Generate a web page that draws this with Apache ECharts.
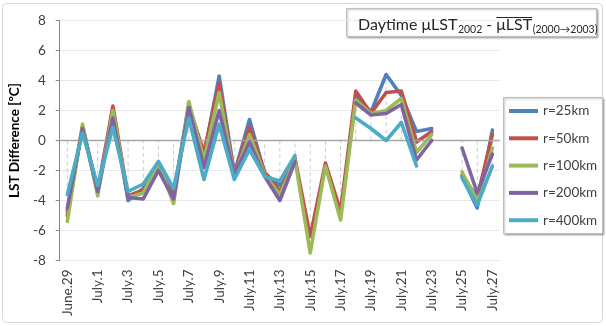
<!DOCTYPE html>
<html><head><meta charset="utf-8">
<script src="https://cdn.jsdelivr.net/npm/echarts@6/dist/echarts.min.js"></script>
<style>html,body{margin:0;padding:0;background:#fff}#c{width:606px;height:326px}</style>
</head><body><div id="c"></div>
<script>
const categories = ['June.29','June.30','July.1','July.2','July.3','July.4','July.5','July.6','July.7','July.8','July.9','July.10','July.11','July.12','July.13','July.14','July.15','July.16','July.17','July.18','July.19','July.20','July.21','July.22','July.23','July.24','July.25','July.26','July.27'];
const r25  = [-4.7, 0.9, -3.3, 2.1, -4.0, -3.2, -1.5, -3.6, 2.4, -1.0, 4.3, -2.2, 1.4, -2.2, -3.0, -1.2, null, null, null, 3.0, 1.9, 4.4, 3.0, 0.6, 0.8, null, -2.4, -4.5, 0.7];
const r50  = [-5.0, 0.9, -3.4, 2.3, -3.7, -3.3, -1.6, -3.7, 2.3, -0.8, 3.8, -2.3, 0.9, -2.1, -3.4, -1.2, -6.4, -1.5, -4.7, 3.3, 1.8, 3.2, 3.3, -0.1, 0.6, null, -2.3, -3.8, 0.4];
const r100 = [-5.4, 1.1, -3.7, 2.0, -3.8, -3.5, -1.5, -4.2, 2.6, -1.3, 3.2, -2.4, 0.4, -2.3, -3.6, -1.3, -7.5, -1.7, -5.3, 2.7, 1.8, 2.0, 2.8, -0.8, 0.4, null, -2.1, -4.0, -0.5];
const r200 = [-4.5, 0.8, -3.4, 1.5, -3.8, -3.9, -2.0, -3.9, 2.2, -1.8, 2.0, -2.3, -0.1, -2.4, -4.0, -1.4, null, null, null, 2.5, 1.7, 1.8, 2.4, -1.3, 0.0, null, -0.5, -3.5, -0.9];
const r400 = [-3.6, 0.5, -3.0, 0.9, -3.4, -2.9, -1.4, -3.2, 1.5, -2.6, 1.1, -2.6, -0.6, -2.4, -2.7, -1.0, null, null, null, 1.5, 0.8, 0.0, 1.2, -1.7, null, null, -2.5, -4.3, -1.7];
const seriesNames = ['r=25km','r=50km','r=100km','r=200km','r=400km'];
const yTicks = {min: -8, max: 8, interval: 2};
const titleParts = {main: 'Daytime μLST', sub1: '2002', dash: '-', bar: 'μLST', sub2: '(2000→2003)'};

const allSeries = [r25, r50, r100, r200, r400];
const colors = ['#4F81BD','#C0504D','#9BBB59','#8064A2','#4BACC6'];
const FONT = 'Lato';

// drop lines (from axis at 0 to each point), derived from data
const dropData = [];
categories.forEach((c, i) => {
  const vals = allSeries.map(s => s[i]).filter(v => v !== null && v !== undefined);
  if (!vals.length) return;
  dropData.push([i, Math.min(0, ...vals), Math.max(0, ...vals)]);
});

// title layout (text measurement)
const mctx = document.createElement('canvas').getContext('2d');
function tw(t, size) { mctx.font = size + 'px ' + FONT; return mctx.measureText(t).width; }
const BIG = 16, SMALL = 10.5;
const tx1 = 358;
const tx2 = tx1 + tw(titleParts.main, BIG) + 0.5;
const tx3 = tx2 + tw(titleParts.sub1, SMALL) + 4;
const tx4 = tx3 + tw(titleParts.dash, BIG) + 4;
const barW = tw(titleParts.bar, BIG);
const tx5 = tx4 + barW + 0.5;

const chart = echarts.init(document.getElementById('c'), null, {renderer: 'canvas'});
const series = [{
  type: 'custom',
  z: 1,
  silent: true,
  data: dropData,
  encode: {x: 0, y: [1, 2]},
  renderItem: (params, api) => {
    const p1 = api.coord([api.value(0), api.value(1)]);
    const p2 = api.coord([api.value(0), api.value(2)]);
    return {type: 'line', shape: {x1: p1[0], y1: p1[1], x2: p2[0], y2: p2[1]},
      style: {stroke: '#cccccc', lineWidth: 1, lineDash: [4, 3]}};
  },
  markLine: {silent: true, symbol: 'none', label: {show: false},
    lineStyle: {color: '#a6a6a6', width: 1.3, type: 'solid'}, data: [{yAxis: 0}]}
}];
allSeries.forEach((d, k) => {
  series.push({
    name: seriesNames[k], type: 'line', data: d, z: 2 + k,
    showSymbol: false, symbol: 'none', connectNulls: false,
    lineStyle: {width: 3.6, color: colors[k], join: 'round', cap: 'round'},
    itemStyle: {color: colors[k]}
  });
});

const txtStyle = (x, y, text, size) => ({type: 'text', silent: true, z: 1,
  style: {x: x, y: y, text: text, fontSize: size, fontFamily: FONT, fill: '#262626', verticalAlign: 'middle'}});

chart.setOption({
  animation: false,
  color: colors,
  grid: {left: 48, right: 106, top: 20.5, bottom: 65.5, containLabel: false},
  xAxis: {
    type: 'category', data: categories, boundaryGap: true,
    axisLine: {show: false}, axisTick: {show: false},
    axisLabel: {interval: 1, rotate: 90, margin: 9, fontSize: 13.5, fontFamily: FONT, color: '#404040'},
    splitLine: {show: false}
  },
  yAxis: {
    type: 'value', min: yTicks.min, max: yTicks.max, interval: yTicks.interval,
    axisLine: {show: true, lineStyle: {color: '#868686'}},
    axisTick: {show: true, inside: false, length: 4, lineStyle: {color: '#868686'}},
    axisLabel: {margin: 14, fontSize: 13.5, fontFamily: FONT, color: '#404040'},
    splitLine: {show: true, lineStyle: {color: '#e8e8e8', width: 1}},
    name: 'LST Difference [ºC]', nameLocation: 'middle', nameGap: 32,
    nameTextStyle: {fontWeight: 'bold', fontSize: 13.5, fontFamily: FONT, color: '#000'}
  },
  legend: {
    data: seriesNames, orient: 'vertical', left: 509, top: 103, padding: 0,
    icon: 'rect', itemWidth: 29, itemHeight: 4, itemGap: 11.3,
    textStyle: {fontSize: 13.5, fontFamily: FONT, color: '#404040', lineHeight: 16}
  },
  graphic: [
    {type: 'rect', silent: true, z: -10, shape: {x: 2.5, y: 3.5, width: 600, height: 319, r: 4},
      style: {fill: 'none', stroke: '#d9d9d9', lineWidth: 1}},
    {type: 'rect', silent: true, z: 0, shape: {x: 346.5, y: 8.5, width: 250, height: 28},
      style: {fill: '#fff', stroke: '#bfbfbf', lineWidth: 1, shadowBlur: 2, shadowOffsetX: 1, shadowOffsetY: 1, shadowColor: 'rgba(0,0,0,0.3)'}},
    {type: 'rect', silent: true, z: 0, shape: {x: 503.5, y: 97.5, width: 99, height: 136},
      style: {fill: '#fff', stroke: '#bfbfbf', lineWidth: 1, shadowBlur: 2, shadowOffsetX: 1, shadowOffsetY: 1, shadowColor: 'rgba(0,0,0,0.3)'}},
    txtStyle(tx1, 24.5, titleParts.main, BIG),
    txtStyle(tx2, 30, titleParts.sub1, SMALL),
    txtStyle(tx3, 24.5, titleParts.dash, BIG),
    txtStyle(tx4, 24.5, titleParts.bar, BIG),
    {type: 'line', silent: true, z: 1, shape: {x1: tx4, y1: 17.5, x2: tx4 + barW, y2: 17.5}, style: {stroke: '#262626', lineWidth: 1}},
    txtStyle(tx5, 30, titleParts.sub2, SMALL)
  ],
  series: series
});
</script></body></html>
